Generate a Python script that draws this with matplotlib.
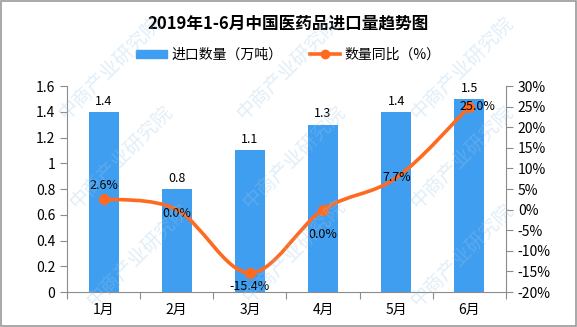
import matplotlib
matplotlib.use("Agg")
import matplotlib.pyplot as plt
from matplotlib.path import Path
from matplotlib.patches import PathPatch, Rectangle
from matplotlib.lines import Line2D
from matplotlib.ticker import FixedLocator, FuncFormatter

# ==========================================================
# DATA
# ==========================================================

months = ["1月", "2月", "3月", "4月", "5月", "6月"]
import_qty = [1.4, 0.8, 1.1, 1.3, 1.4, 1.5]          # 万吨
yoy_pct = [2.6, 0.0, -15.4, 0.0, 7.7, 25.0]           # %

# ==========================================================
# STYLE
# ==========================================================

plt.rcParams["font.family"] = ["Noto Sans CJK SC", "DejaVu Sans"]
plt.rcParams["font.size"] = 10

BAR_COLOR = "#409ef0"
LINE_COLOR = "#ff6a21"
AXIS_COLOR = "#8c8c8c"

fig = plt.figure(figsize=(5.77, 3.27), dpi=100)
ax = fig.add_axes([0.116, 0.107, 0.761, 0.630])
ax2 = ax.twinx()

x = list(range(len(months)))

# ==========================================================
# BARS
# ==========================================================

ax.bar(x, import_qty, width=0.41, color=BAR_COLOR, zorder=2)
for xi, v in zip(x, import_qty):
    ax.annotate(f"{v:.1f}", (xi, v), xytext=(0, 3), textcoords="offset points",
                ha="center", va="bottom", fontsize=9)

ax.set_xlim(-0.5, len(months) - 0.5)
ax.set_ylim(0, 1.6)
ax.yaxis.set_major_locator(FixedLocator([i * 0.2 for i in range(9)]))
ax.yaxis.set_major_formatter(FuncFormatter(lambda v, p: f"{v:g}"))

# category boundaries as ticks, month names centred between them
ax.xaxis.set_major_locator(FixedLocator([i - 0.5 for i in range(len(months) + 1)]))
ax.xaxis.set_major_formatter(FuncFormatter(lambda v, p: ""))
ax.xaxis.set_minor_locator(FixedLocator(x))
ax.set_xticklabels(months, minor=True)
ax.tick_params(axis="x", which="minor", length=0, pad=8, labelsize=10)
ax.tick_params(axis="x", which="major", length=5, color=AXIS_COLOR)
ax.tick_params(axis="y", length=5, color=AXIS_COLOR, labelsize=10)

# ==========================================================
# SMOOTH LINE (Catmull-Rom as cubic Bezier)
# ==========================================================

pts = list(zip(x, yoy_pct))
verts = [pts[0]]
codes = [Path.MOVETO]
n = len(pts)
for i in range(n - 1):
    p0 = pts[max(i - 1, 0)]
    p1 = pts[i]
    p2 = pts[i + 1]
    p3 = pts[min(i + 2, n - 1)]
    c1 = (p1[0] + (p2[0] - p0[0]) / 6, p1[1] + (p2[1] - p0[1]) / 6)
    c2 = (p2[0] - (p3[0] - p1[0]) / 6, p2[1] - (p3[1] - p1[1]) / 6)
    verts += [c1, c2, p2]
    codes += [Path.CURVE4] * 3

ax2.add_patch(PathPatch(Path(verts, codes), facecolor="none",
                        edgecolor=LINE_COLOR, lw=2.6, zorder=3, capstyle="round"))
ax2.plot(x, yoy_pct, linestyle="none", marker="o", markersize=7,
         color=LINE_COLOR, markevery=[0, 2, 3, 5], zorder=4)

label_offsets = [(0, 10), (0, -3), (0, -10), (0, -18), (0, 0), (6, 0)]
for xi, v, off in zip(x, yoy_pct, label_offsets):
    ax2.annotate(f"{v:.1f}%", (xi, v), xytext=off, textcoords="offset points",
                 ha="center", va="center", fontsize=9, zorder=5)

ax2.set_ylim(-20, 30)
ax2.yaxis.set_major_locator(FixedLocator(range(-20, 31, 5)))
ax2.yaxis.set_major_formatter(FuncFormatter(lambda v, p: f"{v:.0f}%"))
ax2.tick_params(axis="y", length=5, color=AXIS_COLOR, labelsize=10)

for a in (ax, ax2):
    a.spines["top"].set_visible(False)
    for s in ("left", "right", "bottom"):
        a.spines[s].set_color(AXIS_COLOR)
ax.spines["right"].set_visible(False)
ax2.spines["left"].set_visible(False)
ax2.spines["bottom"].set_visible(False)

# ==========================================================
# TITLE / LEGEND
# ==========================================================

fig.text(0.5, 0.927, "2019年1-6月中国医药品进口量趋势图", ha="center", va="center",
         fontsize=12, fontweight="bold")

handles = [
    Rectangle((0, 0), 1, 1, color=BAR_COLOR),
    Line2D([], [], color=LINE_COLOR, lw=2.6, marker="o", markersize=6),
]
fig.legend(handles, ["进口数量（万吨）", "数量同比（%）"], loc="center",
           bbox_to_anchor=(0.5, 0.832), ncol=2, frameon=False, fontsize=10,
           handlelength=2.2, handleheight=0.5, columnspacing=2.0, handletextpad=0.3)

# ==========================================================
# WATERMARK
# ==========================================================

for wx, wy in [(0.19, 0.79), (0.50, 0.79), (0.80, 0.79),
               (0.21, 0.52), (0.51, 0.52), (0.80, 0.52),
               (0.24, 0.22), (0.51, 0.23), (0.80, 0.22)]:
    fig.text(wx, wy, "中商产业研究院", rotation=45, ha="center", va="center",
             fontsize=14, color="#9cc6e6", alpha=0.3, zorder=10)

fig.add_artist(Rectangle((0.001, 0.002), 0.997, 0.995, transform=fig.transFigure,
                         fill=False, edgecolor="#9a9a9a", lw=1.2))

fig.savefig("out.png", dpi=100)
